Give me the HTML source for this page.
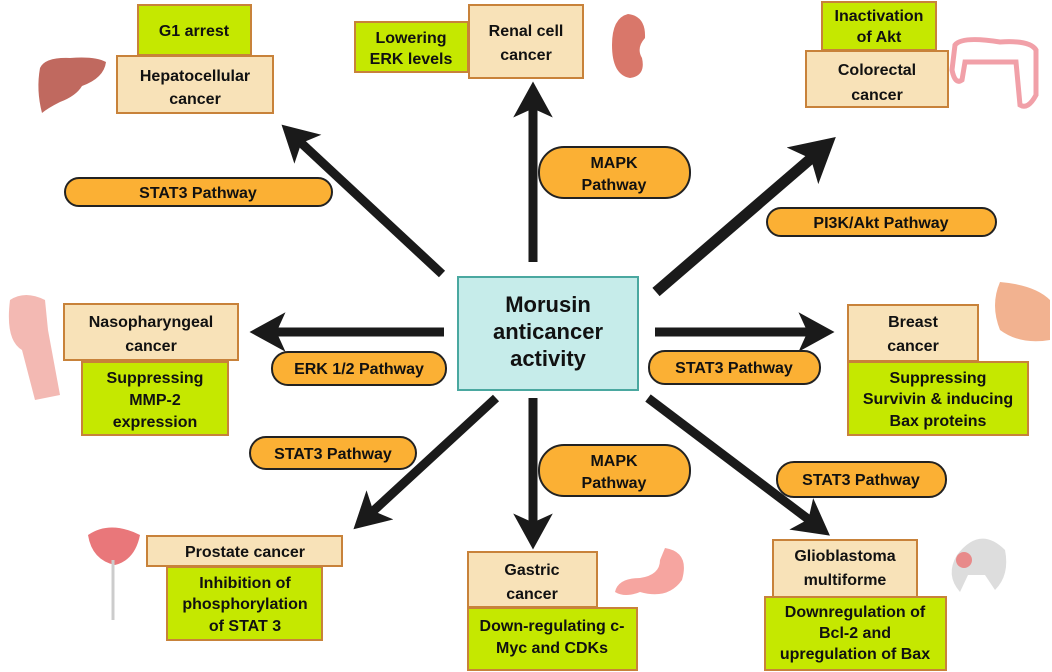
<!DOCTYPE html>
<html><head><meta charset="utf-8"><style>
html,body{margin:0;padding:0;background:#fff;}
svg{display:block;font-family:"Liberation Sans",sans-serif;font-weight:bold;}
</style></head><body>
<svg width="1052" height="672" viewBox="0 0 1052 672" xmlns="http://www.w3.org/2000/svg">
<defs>
<marker id="ah" markerWidth="4" markerHeight="4.4" refX="1.5" refY="2.2" orient="auto" markerUnits="strokeWidth">
<path d="M0,0 L4,2.2 L0,4.4 L1,2.2 Z" fill="#1a1a1a"/></marker>
</defs>
<g stroke="#1a1a1a" stroke-width="9" fill="none" marker-end="url(#ah)">
<line x1="442" y1="274" x2="298" y2="140"/>
<line x1="533" y1="262" x2="533" y2="104"/>
<line x1="656" y1="292" x2="815" y2="155" stroke-width="11"/>
<line x1="444" y1="332" x2="272" y2="332"/>
<line x1="655" y1="332" x2="812" y2="332"/>
<line x1="496" y1="398" x2="370" y2="514"/>
<line x1="533" y1="398" x2="533" y2="527"/>
<line x1="648" y1="398" x2="812" y2="522"/>
</g>
<g stroke="#c8823a" stroke-width="2">
<rect x="138" y="5" width="113" height="50" fill="#c5e800"/>
<rect x="117" y="56" width="156" height="57" fill="#f8e2b8"/>
<rect x="355" y="22" width="113" height="50" fill="#c5e800"/>
<rect x="469" y="5" width="114" height="73" fill="#f8e2b8"/>
<rect x="822" y="2" width="114" height="48" fill="#c5e800"/>
<rect x="806" y="51" width="142" height="56" fill="#f8e2b8"/>
<rect x="64" y="304" width="174" height="56" fill="#f8e2b8"/>
<rect x="82" y="362" width="146" height="73" fill="#c5e800"/>
<rect x="848" y="305" width="130" height="56" fill="#f8e2b8"/>
<rect x="848" y="362" width="180" height="73" fill="#c5e800"/>
<rect x="147" y="536" width="195" height="30" fill="#f8e2b8"/>
<rect x="167" y="567" width="155" height="73" fill="#c5e800"/>
<rect x="468" y="552" width="129" height="55" fill="#f8e2b8"/>
<rect x="468" y="608" width="169" height="62" fill="#c5e800"/>
<rect x="773" y="540" width="144" height="57" fill="#f8e2b8"/>
<rect x="765" y="597" width="181" height="73" fill="#c5e800"/>
</g>
<rect x="458" y="277" width="180" height="113" fill="#c6ecea" stroke="#4aa8a0" stroke-width="2"/>
<g fill="#fbb034" stroke="#222" stroke-width="2">
<rect x="65" y="178" width="267" height="28" rx="14"/>
<rect x="539" y="147" width="151" height="51" rx="25"/>
<rect x="767" y="208" width="229" height="28" rx="14"/>
<rect x="272" y="352" width="174" height="33" rx="16"/>
<rect x="649" y="351" width="171" height="33" rx="16"/>
<rect x="250" y="437" width="166" height="32" rx="16"/>
<rect x="539" y="445" width="151" height="51" rx="25"/>
<rect x="777" y="462" width="169" height="35" rx="17"/>
</g>
<!-- organ icons -->
<path d="M40,68 Q45,57 70,58 Q95,56 106,62 Q104,78 82,86 Q76,96 60,102 Q48,108 42,113 Q36,90 40,68Z" fill="#c0695f"/>
<path d="M628,14 Q612,18 612,45 Q612,75 630,78 Q646,76 642,58 Q636,48 645,38 Q646,16 628,14Z" fill="#d9776a"/>
<path d="M955,45 Q962,36 1000,42 Q1030,40 1036,50 L1036,95 Q1028,110 1020,105 L1016,62 L965,62 L962,80 Q955,85 952,70Z" fill="none" stroke="#f1a0a8" stroke-width="5"/>
<path d="M10,300 Q25,290 45,300 L48,330 L60,395 L35,400 L22,350 Q5,340 10,300Z" fill="#f0a8a0" opacity="0.8"/>
<path d="M1000,282 Q1035,285 1050,300 L1050,340 Q1020,345 1000,330 Q990,305 1000,282Z" fill="#f2b290"/>
<path d="M88,535 Q110,520 140,535 Q135,560 115,565 Q92,560 88,535Z" fill="#e9777a"/>
<path d="M113,560 L113,620" stroke="#ccc" stroke-width="3"/>
<path d="M665,548 Q690,552 682,580 Q668,600 640,592 Q625,598 615,592 Q618,578 640,578 Q660,575 660,560Z" fill="#f6a5a0"/>
<path d="M957,555 Q980,525 1005,550 Q1010,575 995,590 L985,575 L968,575 L960,592 Q945,575 957,555Z" fill="#ddd"/>
<circle cx="964" cy="560" r="8" fill="#e88a8a"/>
<g font-size="16" text-anchor="middle" fill="#111">
<text x="194" y="36">G1 arrest</text>
<text x="195" y="81">Hepatocellular</text><text x="195" y="104">cancer</text>
<text x="411" y="43">Lowering</text><text x="411" y="64">ERK levels</text>
<text x="526" y="36">Renal cell</text><text x="526" y="60">cancer</text>
<text x="879" y="21">Inactivation</text><text x="879" y="42">of Akt</text>
<text x="877" y="75">Colorectal</text><text x="877" y="100">cancer</text>
<text x="151" y="327">Nasopharyngeal</text><text x="151" y="351">cancer</text>
<text x="155" y="383">Suppressing</text><text x="155" y="405">MMP-2</text><text x="155" y="427">expression</text>
<text x="913" y="327">Breast</text><text x="913" y="351">cancer</text>
<text x="938" y="383">Suppressing</text><text x="938" y="404">Survivin &amp; inducing</text><text x="938" y="426">Bax proteins</text>
<text x="245" y="557">Prostate cancer</text>
<text x="245" y="588">Inhibition of</text><text x="245" y="609">phosphorylation</text><text x="245" y="631">of STAT 3</text>
<text x="532" y="575">Gastric</text><text x="532" y="599">cancer</text>
<text x="552" y="631">Down-regulating c-</text><text x="552" y="653">Myc and CDKs</text>
<text x="845" y="561">Glioblastoma</text><text x="845" y="585">multiforme</text>
<text x="855" y="617">Downregulation of</text><text x="855" y="638">Bcl-2 and</text><text x="855" y="659">upregulation of Bax</text>
<text x="198" y="198">STAT3 Pathway</text>
<text x="614" y="168">MAPK</text><text x="614" y="190">Pathway</text>
<text x="881" y="228">PI3K/Akt Pathway</text>
<text x="359" y="374">ERK 1/2 Pathway</text>
<text x="734" y="373">STAT3 Pathway</text>
<text x="333" y="459">STAT3 Pathway</text>
<text x="614" y="466">MAPK</text><text x="614" y="488">Pathway</text>
<text x="861" y="485">STAT3 Pathway</text>
</g>
<g font-size="22" text-anchor="middle" fill="#111">
<text x="548" y="312">Morusin</text>
<text x="548" y="339">anticancer</text>
<text x="548" y="366">activity</text>
</g>
</svg>
</body></html>
